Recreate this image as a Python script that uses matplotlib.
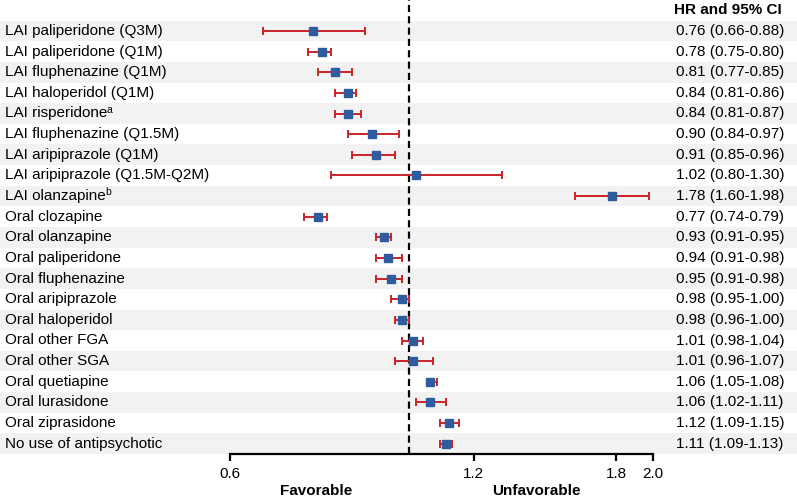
import matplotlib
matplotlib.use('Agg')
import matplotlib.pyplot as plt
from matplotlib.patches import Rectangle
from matplotlib.transforms import blended_transform_factory
import numpy as np

plt.rcParams['font.family'] = ['Liberation Sans', 'DejaVu Sans']

labels = [
    "LAI paliperidone (Q3M)",
    "LAI paliperidone (Q1M)",
    "LAI fluphenazine (Q1M)",
    "LAI haloperidol (Q1M)",
    "LAI risperidone",
    "LAI fluphenazine (Q1.5M)",
    "LAI aripiprazole (Q1M)",
    "LAI aripiprazole (Q1.5M-Q2M)",
    "LAI olanzapine",
    "Oral clozapine",
    "Oral olanzapine",
    "Oral paliperidone",
    "Oral fluphenazine",
    "Oral aripiprazole",
    "Oral haloperidol",
    "Oral other FGA",
    "Oral other SGA",
    "Oral quetiapine",
    "Oral lurasidone",
    "Oral ziprasidone",
    "No use of antipsychotic",
]
superscripts = ["", "", "", "", "a", "", "", "", "b",
                "", "", "", "", "", "", "", "", "", "", "", ""]
hr = [0.76, 0.78, 0.81, 0.84, 0.84, 0.90, 0.91, 1.02, 1.78,
      0.77, 0.93, 0.94, 0.95, 0.98, 0.98, 1.01, 1.01, 1.06, 1.06, 1.12, 1.11]
lo = [0.66, 0.75, 0.77, 0.81, 0.81, 0.84, 0.85, 0.80, 1.60,
      0.74, 0.91, 0.91, 0.91, 0.95, 0.96, 0.98, 0.96, 1.05, 1.02, 1.09, 1.09]
hi = [0.88, 0.80, 0.85, 0.86, 0.87, 0.97, 0.96, 1.30, 1.98,
      0.79, 0.95, 0.98, 0.98, 1.00, 1.00, 1.04, 1.07, 1.08, 1.11, 1.15, 1.13]
xticks = [0.6, 1.2, 1.8, 2.0]
xtick_labels = ["0.6", "1.2", "1.8", "2.0"]
header = "HR and 95% CI"

W, H = 797, 497
fig = plt.figure(figsize=(W / 100, H / 100), dpi=100)
ax = fig.add_axes([230 / W, 1 - 454 / H, (653 - 230) / W, 454 / H])

n = len(labels)
hr_a = np.array(hr)
lo_a = np.array(lo)
hi_a = np.array(hi)
ys = np.arange(n, 0, -1)  # row 0 at top

ax.set_xscale('log')
ax.set_xlim(0.6, 2.0)
ax.set_ylim(0.5, n + 1.5)

# stripes across the whole figure width
trans = blended_transform_factory(fig.transFigure, ax.transData)
for i, y in enumerate(ys):
    if i % 2 == 0:
        r = Rectangle((0, y - 0.5), 1, 1, transform=trans, facecolor='#f2f2f2',
                      edgecolor='none', zorder=0, clip_on=False)
        ax.add_patch(r)

ax.axvline(1.0, color='black', lw=1.6, ls=(0, (3.2, 1.9)), zorder=2)

ax.errorbar(hr_a, ys, xerr=[hr_a - lo_a, hi_a - hr_a], fmt='s',
            color='#2e5c9e', markersize=5.2, ecolor='#cc2229',
            elinewidth=1.4, capsize=2.8, capthick=1.4, zorder=3)

for sp in ['top', 'right', 'left']:
    ax.spines[sp].set_visible(False)
ax.spines['bottom'].set_linewidth(1.6)
ax.set_yticks([])
ax.xaxis.set_minor_locator(matplotlib.ticker.NullLocator())
ax.set_xticks(xticks)
ax.set_xticklabels(xtick_labels, fontsize=11)
ax.tick_params(axis='x', direction='out', length=5, width=1.6, pad=4)
ax.patch.set_alpha(0)

for lab, sup, y in zip(labels, superscripts, ys):
    t = ax.text(5 / W, y, lab, transform=trans, fontsize=11, va='center', ha='left')
    if sup:
        ax.annotate(sup, xy=(1.0, 0.40), xycoords=t, fontsize=7.5,
                    va='bottom', ha='left', xytext=(-0.6, 0),
                    textcoords='offset points')
for h, l, u, y in zip(hr, lo, hi, ys):
    ax.text(676 / W, y, f"{h:.2f} ({l:.2f}-{u:.2f})", transform=trans,
            fontsize=11, va='center', ha='left')
ax.text(674 / W, n + 1, header, transform=trans, fontsize=11,
        fontweight='bold', va='center', ha='left')

fig.text(316 / W, 1 - 491 / H, "Favorable", fontsize=11, fontweight='bold',
         ha='center', va='center')
fig.text(536 / W, 1 - 491 / H, "Unfavorable", fontsize=11, fontweight='bold',
         ha='center', va='center')

fig.savefig('out.png', dpi=100)
